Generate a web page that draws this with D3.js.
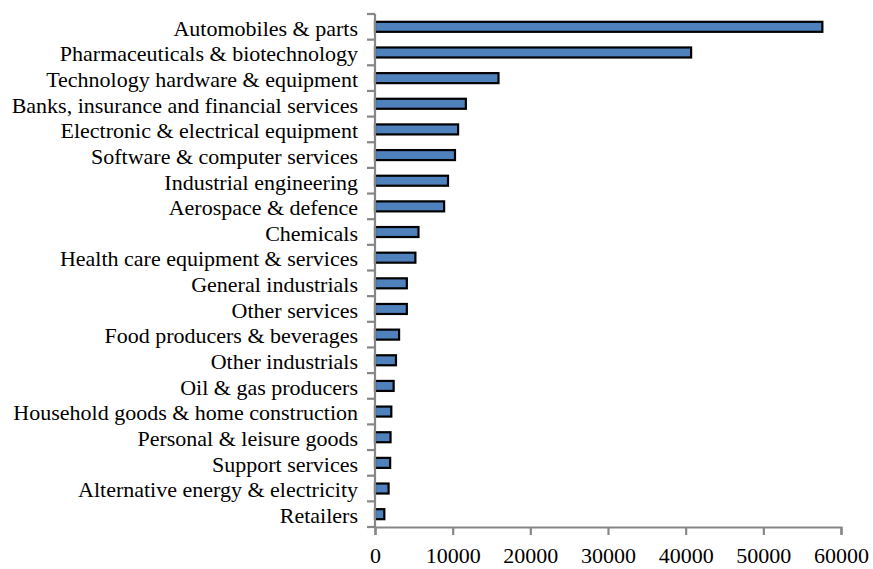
<!DOCTYPE html>
<html lang="en">
<head>
	<meta charset="UTF-8">
	<title>R&D by sector</title>
	<script src="https://cdn.jsdelivr.net/npm/d3@7"></script>
	<style>
		body { margin: 0; background: #fff; }
		text { font-family: "Liberation Serif", "Times New Roman", serif; }
	</style>
</head>
<body>
	<div id="chart"></div>
</body>
<script>

const sectors = [
	'Automobiles & parts',
	'Pharmaceuticals & biotechnology',
	'Technology hardware & equipment',
	'Banks, insurance and financial services',
	'Electronic & electrical equipment',
	'Software & computer services',
	'Industrial engineering',
	'Aerospace & defence',
	'Chemicals',
	'Health care equipment & services',
	'General industrials',
	'Other services',
	'Food producers & beverages',
	'Other industrials',
	'Oil & gas producers',
	'Household goods & home construction',
	'Personal & leisure goods',
	'Support services',
	'Alternative energy & electricity',
	'Retailers'
];
const values = [57600, 40700, 15900, 11700, 10700, 10300, 9400, 8900, 5600, 5200,
	4100, 4100, 3100, 2700, 2400, 2100, 2000, 1950, 1750, 1200];
const xTicks = [0, 10000, 20000, 30000, 40000, 50000, 60000];

const width = 873, height = 569;
const margin = {top: 14, right: 32, bottom: 42, left: 375};
const axisColor = '#878787';

const svg = d3.select('#chart').append('svg')
	.attr('width', width)
	.attr('height', height);

const x = d3.scaleLinear()
	.domain([0, 60000])
	.range([margin.left, width - margin.right]);

const y = d3.scaleBand()
	.domain(sectors)
	.range([margin.top, height - margin.bottom]);

// bars
const barH = 10;
svg.append('g')
	.selectAll('rect')
	.data(values)
	.join('rect')
	.attr('x', x(0))
	.attr('y', (d, i) => y(sectors[i]) + y.bandwidth() / 2 - barH / 2)
	.attr('width', d => x(d) - x(0))
	.attr('height', barH)
	.attr('fill', '#4f81bd')
	.attr('stroke', '#000')
	.attr('stroke-width', 2.2);

// y axis: labels from axisLeft, ticks between categories
const yAxis = svg.append('g')
	.attr('transform', `translate(${x(0)},0)`)
	.call(d3.axisLeft(y).tickSize(0).tickPadding(17));
yAxis.select('.domain').remove();
yAxis.selectAll('text')
	.attr('font-size', 22)
	.attr('fill', '#000')
	.attr('dy', '0.4em');

const bounds = sectors.map(s => y(s)).concat([y.range()[1]]);
svg.append('g')
	.selectAll('line')
	.data(bounds)
	.join('line')
	.attr('x1', x(0) - 8)
	.attr('x2', x(0))
	.attr('y1', d => d)
	.attr('y2', d => d)
	.attr('stroke', axisColor)
	.attr('stroke-width', 2.2);

svg.append('line')
	.attr('x1', x(0)).attr('x2', x(0))
	.attr('y1', y.range()[0]).attr('y2', y.range()[1])
	.attr('stroke', axisColor)
	.attr('stroke-width', 2.2);

// x axis
const xAxis = svg.append('g')
	.attr('transform', `translate(0,${y.range()[1]})`)
	.call(d3.axisBottom(x).tickValues(xTicks).tickFormat(d3.format('d')).tickSize(8).tickPadding(12));
xAxis.select('.domain')
	.attr('stroke', axisColor)
	.attr('stroke-width', 2.2);
xAxis.selectAll('.tick line')
	.attr('stroke', axisColor)
	.attr('stroke-width', 2.2);
xAxis.selectAll('text')
	.attr('font-size', 22)
	.attr('fill', '#000');

</script>
</html>
